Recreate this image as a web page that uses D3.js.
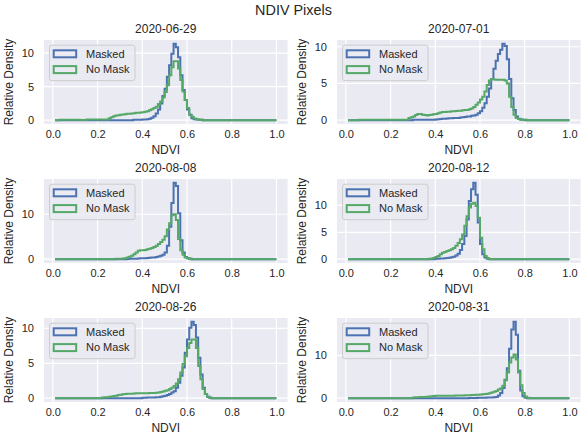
<!DOCTYPE html>
<html lang="en">
<head>
<meta charset="UTF-8">
<title>NDIV Pixels</title>
<script src="https://cdnjs.cloudflare.com/ajax/libs/d3/7.8.5/d3.min.js"></script>
<style>
    body { margin: 0; background: #fff; }
    text { font-family: "Liberation Sans", Arial, sans-serif; fill: #262626; }
</style>
</head>
<body>
<svg id="chart" width="586" height="438"></svg>
<script>
// panel titles
var dates = ["2020-06-29", "2020-07-01", "2020-08-08", "2020-08-12", "2020-08-26", "2020-08-31"];
var seriesNames = ["Masked", "No Mask"];
var xTicks = [0, 0.2, 0.4, 0.6, 0.8, 1.0];
var yTicks = [[0, 5, 10], [0, 5, 10], [0, 10], [0, 5, 10], [0, 5, 10], [0, 10]];

// histogram bins are 0.01 wide and cover NDVI 0.01 .. 1.0
var binLo = 0.01, binHi = 1.0, binWidth = 0.01;

// NDVI of the first listed bin of each run, bins outside the run are 0
var maskedStart = [0.36, 0.30, 0.33, 0.40, 0.40, 0.55];
var noMaskStart = [0.03, 0.06, 0.28, 0.37, 0.22, 0.30];

// relative density, masked pixels
var masked = [
    // 2020-06-29
    [0.05, 0.05, 0.08, 0.08, 0.1, 0.1, 0.15, 0.2, 0.35, 0.6, 1.0, 1.6, 2.5, 3.6, 4.7, 6.5, 8.2, 9.9, 11.4, 10.9,
     9.4, 6.7, 4.5, 3.0, 1.6, 0.8, 0.3, 0.15, 0.1, 0.05, 0.05],
    // 2020-07-01
    [0.05, 0.05, 0.05, 0.05, 0.05, 0.05, 0.05, 0.05, 0.05, 0.05, 0.1, 0.12, 0.15, 0.18, 0.2, 0.22, 0.25, 0.28,
     0.3, 0.3, 0.3, 0.35, 0.4, 0.45, 0.5, 0.5, 0.6, 0.65, 0.75, 0.95, 1.2, 1.7, 2.3, 3.2, 4.3, 5.6, 7.0, 8.1, 9.0,
     9.6, 10.4, 10.1, 8.3, 5.6, 3.0, 1.4, 0.5, 0.2, 0.1, 0.05],
    // 2020-08-08
    [0.05, 0.08, 0.1, 0.1, 0.12, 0.15, 0.18, 0.2, 0.22, 0.25, 0.3, 0.35, 0.4, 0.5, 0.6, 0.75, 1.0, 1.5, 3.0, 7.2,
     12.5, 17.0, 16.3, 10.2, 4.2, 1.5, 0.5, 0.2, 0.1],
    // 2020-08-12
    [0.1, 0.1, 0.12, 0.15, 0.18, 0.2, 0.25, 0.35, 0.45, 0.7, 1.0, 1.7, 2.8, 4.3, 7.4, 10.8, 13.0, 14.2, 12.0, 6.8,
     2.8, 0.9, 0.3, 0.1],
    // 2020-08-26
    [0.05, 0.05, 0.08, 0.08, 0.1, 0.1, 0.12, 0.15, 0.2, 0.28, 0.35, 0.45, 0.6, 0.8, 1.0, 1.5, 2.2, 3.2, 4.4, 6.5,
     8.4, 10.1, 10.95, 10.5, 8.7, 5.8, 3.4, 1.5, 0.6, 0.2, 0.05],
    // 2020-08-31
    [0.05, 0.05, 0.06, 0.07, 0.08, 0.1, 0.1, 0.12, 0.13, 0.15, 0.15, 0.2, 0.3, 0.6, 1.2, 2.4, 4.3, 7.0, 11.5, 16.0,
     17.8, 14.8, 6.4, 1.8, 0.45, 0.1]
];

// relative density, all pixels
var noMask = [
    // 2020-06-29
    [0.08, 0.08, 0.08, 0.08, 0.08, 0.08, 0.08, 0.08, 0.08, 0.03, 0.03, 0.03, 0.1, 0.1, 0.1, 0.1, 0.1, 0.1, 0.1, 0.1,
     0.1, 0.1, 0.3, 0.45, 0.6, 0.7, 0.75, 0.8, 0.85, 0.9, 0.95, 0.95, 1.0, 1.05, 1.1, 1.1, 1.15, 1.2, 1.25, 1.35,
     1.5, 1.65, 1.8, 2.0, 2.4, 2.8, 3.4, 4.2, 5.2, 6.7, 7.9, 8.8, 8.8, 7.7, 6.0, 4.3, 3.0, 1.8, 0.8, 0.5, 0.25,
     0.15, 0.1, 0.05],
    // 2020-07-01
    [0.05, 0.05, 0.05, 0.05, 0.05, 0.05, 0.05, 0.05, 0.05, 0.05, 0.05, 0.05, 0.05, 0.05, 0.05, 0.05, 0.05, 0.05,
     0.05, 0.05, 0.05, 0.05, 0.3, 0.4, 0.5, 0.7, 0.85, 0.85, 0.75, 0.7, 0.65, 0.7, 0.75, 0.8, 0.85, 0.95, 1.05,
     1.1, 1.1, 1.15, 1.15, 1.2, 1.2, 1.25, 1.3, 1.3, 1.35, 1.4, 1.4, 1.5, 1.6, 1.8, 2.1, 2.4, 2.8, 3.2, 3.9, 4.8,
     5.4, 5.6, 5.55, 5.5, 5.5, 5.5, 5.5, 5.4, 5.0, 3.2, 1.8, 0.75, 0.3, 0.15, 0.05, 0.05, 0.05],
    // 2020-08-08
    [0.1, 0.1, 0.12, 0.15, 0.2, 0.35, 0.55, 0.75, 1.1, 1.5, 1.9, 2.0, 2.0, 2.05, 2.2, 2.35, 2.5, 2.7, 3.0, 3.4,
     3.8, 4.3, 5.1, 6.6, 8.0, 9.8, 10.0, 8.7, 4.5, 2.0, 1.0, 0.4, 0.2, 0.1],
    // 2020-08-12
    [0.1, 0.15, 0.2, 0.4, 0.6, 0.9, 1.2, 1.35, 1.5, 1.65, 1.85, 2.1, 2.5, 3.0, 3.7, 4.6, 6.2, 8.0, 9.6, 10.3, 10.5,
     9.9, 7.7, 4.0, 1.85, 0.6, 0.2, 0.05],
    // 2020-08-26
    [0.1, 0.12, 0.15, 0.2, 0.25, 0.3, 0.35, 0.45, 0.5, 0.55, 0.6, 0.62, 0.65, 0.65, 0.68, 0.7, 0.7, 0.7, 0.72,
     0.72, 0.72, 0.74, 0.75, 0.75, 0.78, 0.8, 0.88, 0.95, 1.05, 1.15, 1.3, 1.5, 1.75, 2.1, 2.7, 3.7, 4.9, 6.0, 7.2,
     7.9, 8.4, 8.4, 7.2, 4.6, 2.7, 1.3, 0.6, 0.2, 0.05],
    // 2020-08-31
    [0.15, 0.2, 0.22, 0.25, 0.28, 0.3, 0.35, 0.4, 0.45, 0.5, 0.55, 0.55, 0.56, 0.56, 0.57, 0.57, 0.58, 0.58, 0.59,
     0.6, 0.6, 0.62, 0.64, 0.66, 0.68, 0.7, 0.72, 0.75, 0.8, 0.82, 0.85, 0.9, 0.95, 1.05, 1.15, 1.3, 1.5, 1.7, 2.0,
     2.25, 2.9, 4.2, 6.0, 8.3, 9.5, 10.2, 9.0, 6.0, 3.0, 1.2, 0.4, 0.1]
];

var colors = ["#4c72b0", "#55a868"];
var colX = [44, 337], rowY = [40, 179, 318];
var panelW = 243.5, panelH = 84;

var svg = d3.select("#chart");

svg.append("text")
    .attr("x", 293.5)
    .attr("y", 15)
    .attr("text-anchor", "middle")
    .style("font-size", "14.4px")
    .text("NDIV Pixels");

// fill the full bin list, zero where the run has no value
function makeBins(start, vals) {
    var n = Math.round((binHi - binLo) / binWidth);
    var off = Math.round((start - binLo) / binWidth);
    return d3.range(n).map(function (i) {
        var v = vals[i - off];
        return { x0: binLo + i * binWidth, x1: binLo + (i + 1) * binWidth, h: v === undefined ? 0 : v };
    });
}

// matplotlib style step outline
function stepPath(b, x, y) {
    var p = d3.path();
    p.moveTo(x(b[0].x0), y(0));
    b.forEach(function (d) {
        p.lineTo(x(d.x0), y(d.h));
        p.lineTo(x(d.x1), y(d.h));
    });
    p.lineTo(x(b[b.length - 1].x1), y(0));
    return p.toString();
}

var pad = 0.05 * (binHi - binLo);

dates.forEach(function (date, i) {
    var left = colX[i % 2], top = rowY[Math.floor(i / 2)];
    var series = [makeBins(maskedStart[i], masked[i]), makeBins(noMaskStart[i], noMask[i])];
    var ymax = d3.max(series, function (s) { return d3.max(s, function (d) { return d.h; }); });

    var x = d3.scaleLinear().domain([binLo - pad, binHi + pad]).range([0, panelW]);
    var y = d3.scaleLinear().domain([-0.05 * ymax, 1.05 * ymax]).range([panelH, 0]);

    var g = svg.append("g").attr("transform", "translate(" + left + "," + top + ")");

    g.append("rect")
        .attr("width", panelW)
        .attr("height", panelH)
        .attr("fill", "#eaeaf2");

    // grid
    g.selectAll(".gx").data(xTicks).enter().append("line")
        .attr("x1", function (d) { return x(d); })
        .attr("x2", function (d) { return x(d); })
        .attr("y1", 0).attr("y2", panelH)
        .attr("stroke", "#fff").attr("stroke-width", 1.2);
    g.selectAll(".gy").data(yTicks[i]).enter().append("line")
        .attr("x1", 0).attr("x2", panelW)
        .attr("y1", function (d) { return y(d); })
        .attr("y2", function (d) { return y(d); })
        .attr("stroke", "#fff").attr("stroke-width", 1.2);

    // axes
    var ax = g.append("g")
        .attr("transform", "translate(0," + panelH + ")")
        .call(d3.axisBottom(x).tickValues(xTicks).tickFormat(d3.format(".1f")).tickSize(0).tickPadding(6));
    var ay = g.append("g")
        .call(d3.axisLeft(y).tickValues(yTicks[i]).tickFormat(d3.format("d")).tickSize(0).tickPadding(10));
    [ax, ay].forEach(function (a) {
        a.select(".domain").remove();
        a.selectAll("text")
            .attr("fill", "#262626")
            .style("font-size", "11px")
            .style("font-family", "'Liberation Sans', Arial, sans-serif");
    });

    // histograms
    series.forEach(function (s, k) {
        g.append("path")
            .attr("d", stepPath(s, x, y))
            .attr("fill", "none")
            .attr("stroke", colors[k])
            .attr("stroke-width", 2)
            .attr("stroke-linejoin", "miter");
    });

    g.append("text")
        .attr("x", panelW / 2)
        .attr("y", -7)
        .attr("text-anchor", "middle")
        .style("font-size", "12px")
        .text(date);

    g.append("text")
        .attr("x", panelW / 2)
        .attr("y", panelH + 29.5)
        .attr("text-anchor", "middle")
        .style("font-size", "12px")
        .text("NDVI");

    g.append("text")
        .attr("transform", "translate(-31.5," + (panelH / 2) + ") rotate(-90)")
        .attr("text-anchor", "middle")
        .style("font-size", "12px")
        .text("Relative Density");

    // legend
    var lg = g.append("g");
    lg.append("rect")
        .attr("x", 5.5).attr("y", 5.2)
        .attr("width", 85.5).attr("height", 35.5)
        .attr("rx", 2.5)
        .attr("fill", "#eaeaf2")
        .attr("fill-opacity", 0.8)
        .attr("stroke", "#cccccc")
        .attr("stroke-width", 1);
    seriesNames.forEach(function (name, k) {
        lg.append("rect")
            .attr("x", 9.7).attr("y", 10.3 + k * 15.8)
            .attr("width", 22.5).attr("height", 7)
            .attr("fill", "none")
            .attr("stroke", colors[k])
            .attr("stroke-width", 2);
        lg.append("text")
            .attr("x", 42)
            .attr("y", 17.5 + k * 15.8)
            .style("font-size", "11px")
            .text(name);
    });
});
</script>
</body>
</html>
